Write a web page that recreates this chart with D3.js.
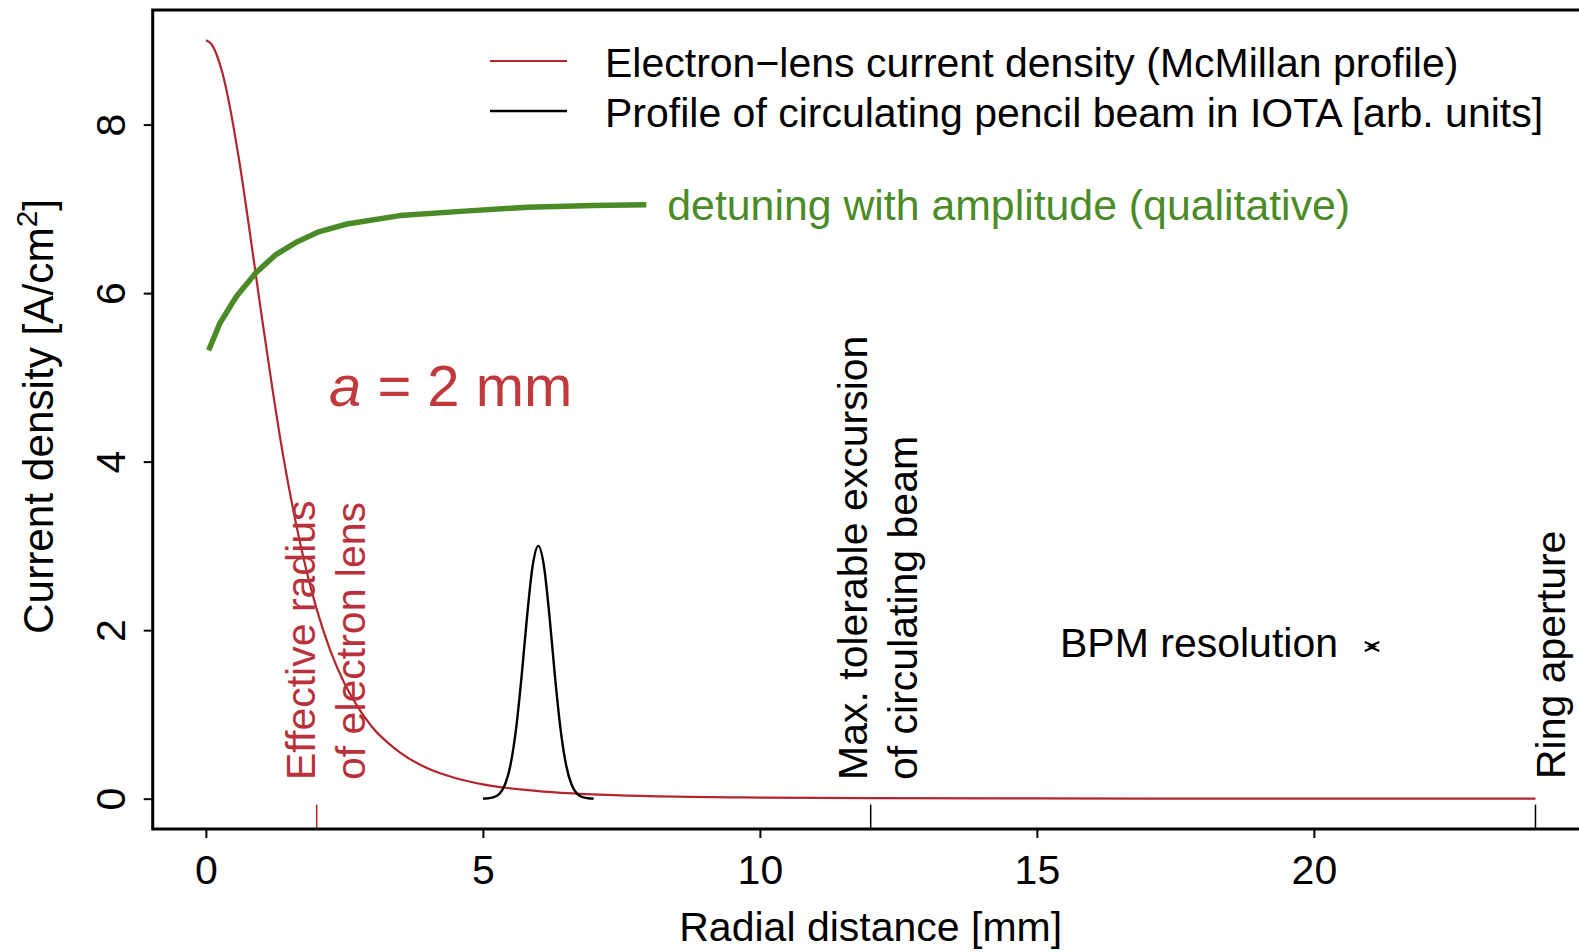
<!DOCTYPE html>
<html>
<head>
<meta charset="utf-8">
<script src="https://cdn.jsdelivr.net/npm/d3@7"></script>
<style>
  html, body { margin: 0; padding: 0; background: #fff; }
  svg { display: block; }
  text { font-family: "Liberation Sans", Arial, Helvetica, sans-serif; }
</style>
</head>
<body>
<svg id="chart" width="1579" height="952"></svg>
<script>
// ---------------- data ----------------
// Electron-lens current density (McMillan profile)
const lensR = [0, 0.1, 0.2, 0.3, 0.4, 0.5, 0.6, 0.8, 1.0, 1.2, 1.4, 1.6, 1.8, 2.0, 2.25, 2.5, 2.75, 3.0, 3.5, 4.0, 4.5, 5, 6, 7, 8, 10, 12, 15, 18, 21, 24];
const lensJ = [9.00, 8.955, 8.82, 8.61, 8.32, 7.97, 7.58, 6.69, 5.76, 4.87, 4.05, 3.35, 2.75, 2.25, 1.75, 1.37, 1.08, 0.85, 0.55, 0.36, 0.245, 0.17, 0.09, 0.05, 0.03, 0.013, 0.007, 0.003, 0.001, 0.001, 0.0];

// Profile of circulating pencil beam in IOTA [arb. units]
const beamR = [5.0, 5.1, 5.2, 5.3, 5.4, 5.5, 5.6, 5.7, 5.8, 5.9, 6.0, 6.1, 6.2, 6.3, 6.4, 6.5, 6.6, 6.7, 6.8, 6.9, 7.0];
const beamJ = [0.0, 0.005, 0.018, 0.059, 0.168, 0.406, 0.834, 1.46, 2.18, 2.77, 3.0, 2.77, 2.18, 1.46, 0.834, 0.406, 0.168, 0.059, 0.018, 0.005, 0.0];

// detuning with amplitude (qualitative)
const detR = [0.05, 0.25, 0.55, 0.9, 1.25, 1.65, 2.05, 2.55, 3.5, 4.6, 5.8, 7.0, 7.95];
const detV = [5.32, 5.64, 5.96, 6.24, 6.45, 6.61, 6.73, 6.82, 6.92, 6.97, 7.02, 7.04, 7.05];

// markers on the radial axis
const lensRadius = 2;      // effective radius of electron lens
const maxExcursion = 12;   // max. tolerable excursion
const ringAperture = 24;   // ring aperture
const bpmCenter = [21.0, 21.1]; // BPM resolution (arrow ends)
const bpmLevel = 1.8;

const xTicks = [0, 5, 10, 15, 20];
const yTicks = [0, 2, 4, 6, 8];
const xDomain = [-0.96, 24.96];
const yDomain = [-0.36, 9.36];

const legendLabels = ["Electron\u2212lens current density (McMillan profile)",
                      "Profile of circulating pencil beam in IOTA [arb. units]"];

// ---------------- styles ----------------
const RED = "#b3252c";
const GREEN = "#4a8b27";
const FS = 41;

const svg = d3.select("#chart");
const L = 152.7, T = 10, B = 829, R = L + 25.92 * 55.4;

const x = d3.scaleLinear().domain(xDomain).range([L, R]);
const y = d3.scaleLinear().domain(yDomain).range([B, T]);

// curves
svg.append("path")
  .datum(d3.zip(lensR, lensJ))
  .attr("d", d3.line().x(d => x(d[0])).y(d => y(d[1])).curve(d3.curveMonotoneX))
  .attr("fill", "none").attr("stroke", RED).attr("stroke-width", 2.2);

svg.append("path")
  .datum(d3.zip(beamR, beamJ))
  .attr("d", d3.line().x(d => x(d[0])).y(d => y(d[1])).curve(d3.curveMonotoneX))
  .attr("fill", "none").attr("stroke", "#000").attr("stroke-width", 2.4);

svg.append("path")
  .datum(d3.zip(detR, detV))
  .attr("d", d3.line().x(d => x(d[0])).y(d => y(d[1])).curve(d3.curveLinear))
  .attr("fill", "none").attr("stroke", GREEN).attr("stroke-width", 5.5)
  .attr("stroke-linejoin", "round");

// small marker segments on bottom
const markerTop = y(-0.07);
[[lensRadius, RED], [maxExcursion, "#000"], [ringAperture, "#000"]].forEach(([v, c]) => {
  svg.append("line")
    .attr("x1", x(v)).attr("x2", x(v))
    .attr("y1", B).attr("y2", markerTop)
    .attr("stroke", c).attr("stroke-width", 1.5);
});

// axes
const xAxis = svg.append("g")
  .attr("transform", `translate(0,${B})`)
  .call(d3.axisBottom(x).tickValues(xTicks).tickSize(9).tickPadding(17).tickFormat(d3.format("d")));
xAxis.select(".domain").remove();
xAxis.selectAll(".tick line").attr("stroke-width", 2);
xAxis.selectAll(".tick text").attr("font-size", FS).attr("fill", "#000")
  .attr("font-family", "Liberation Sans, Arial, sans-serif");

const yAxis = svg.append("g")
  .attr("transform", `translate(${L},0)`)
  .call(d3.axisLeft(y).tickValues(yTicks).tickSize(9).tickFormat(d3.format("d")));
yAxis.select(".domain").remove();
yAxis.selectAll(".tick line").attr("stroke-width", 2);
yAxis.selectAll(".tick text")
  .attr("x", null).attr("dy", null)
  .attr("transform", "translate(-27.5,0) rotate(-90)")
  .attr("text-anchor", "middle")
  .attr("font-size", FS).attr("fill", "#000")
  .attr("font-family", "Liberation Sans, Arial, sans-serif");

// frame
svg.append("rect")
  .attr("x", L).attr("y", T).attr("width", R - L).attr("height", B - T)
  .attr("fill", "none").attr("stroke", "#000").attr("stroke-width", 3);

// axis titles
svg.append("text")
  .attr("x", (L + R) / 2).attr("y", 941)
  .attr("text-anchor", "middle").attr("font-size", FS)
  .text("Radial distance [mm]");

const yt = svg.append("text")
  .attr("transform", `translate(53,${(T + B) / 2 - 3}) rotate(-90)`)
  .attr("text-anchor", "middle").attr("font-size", 42.3);
yt.append("tspan").text("Current density [A/cm");
yt.append("tspan").attr("font-size", 42.3 * 0.7).attr("dy", -16).text("2");
yt.append("tspan").attr("dy", 16).text("]");

// legend
const legColors = [RED, "#000"];
legendLabels.forEach((lab, i) => {
  const ly = 61 + i * 50;
  svg.append("line").attr("x1", 490).attr("x2", 567).attr("y1", ly).attr("y2", ly)
    .attr("stroke", legColors[i]).attr("stroke-width", i === 0 ? 2.2 : 2.4);
  svg.append("text").attr("x", 605).attr("y", ly + 16)
    .attr("font-size", FS).attr("fill", "#000").text(lab);
});

// green label
svg.append("text")
  .attr("x", x(detR[detR.length - 1]) + 21).attr("y", 220)
  .attr("font-size", 42.8).attr("fill", GREEN)
  .text("detuning with amplitude (qualitative)");

// a = 2 mm
const at = svg.append("text").attr("x", 329).attr("y", 406)
  .attr("font-size", 58).attr("fill", "#c0393d");
at.append("tspan").attr("font-style", "italic").text("a");
at.append("tspan").text(" = 2 mm");

// rotated annotations
function vtext(lines, baseX, bottomY, color) {
  lines.forEach((s, i) => {
    svg.append("text")
      .attr("transform", `translate(${baseX + i * 50},${bottomY}) rotate(-90)`)
      .attr("font-size", FS).attr("fill", color).text(s);
  });
}
vtext(["Effective radius", "of electron lens"], x(lensRadius) - 1.5, 780, "#b9313a");
vtext(["Max. tolerable excursion", "of circulating beam"], x(maxExcursion) - 3.5, 780, "#000");
vtext(["Ring aperture"], x(ringAperture) + 30, 779, "#000");

// BPM resolution
svg.append("text").attr("x", 1060).attr("y", 657)
  .attr("font-size", FS).attr("fill", "#000").text("BPM resolution");

const bx0 = x(bpmCenter[0]), bx1 = x(bpmCenter[1]), by = y(bpmLevel) - 0.5;
const headL = 10, headH = 4.5;
const bpm = svg.append("g").attr("stroke", "#000").attr("stroke-width", 2).attr("fill", "none");
bpm.append("line").attr("x1", bx0).attr("x2", bx1).attr("y1", by).attr("y2", by);
bpm.append("path").attr("d", `M${bx0 + headL},${by - headH}L${bx0},${by}L${bx0 + headL},${by + headH}`);
bpm.append("path").attr("d", `M${bx1 - headL},${by - headH}L${bx1},${by}L${bx1 - headL},${by + headH}`);
</script>
</body>
</html>
